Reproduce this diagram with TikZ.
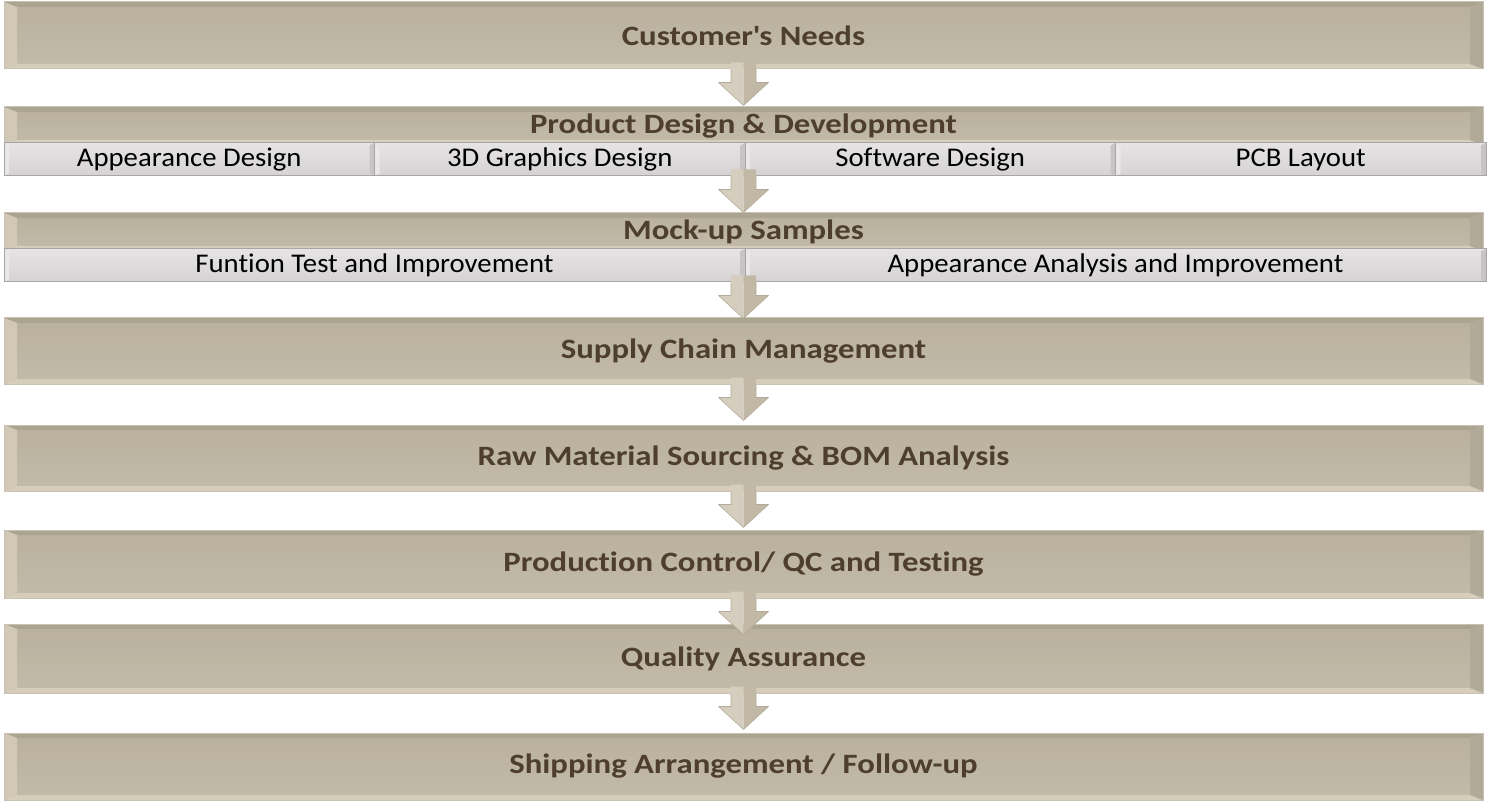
\documentclass[tikz,border=0pt]{standalone}
\usepackage{fontspec}
\setmainfont{Carlito}
\newfontfamily\titlefont[FakeStretch=1.17,Ligatures=NoCommon]{Carlito}
\newfontfamily\cellfont[FakeStretch=1.065,Ligatures=NoCommon]{Carlito}
\usetikzlibrary{calc}
\definecolor{boxtop}{HTML}{B9B19E}
\definecolor{boxbot}{HTML}{C3BBA9}
\definecolor{bevtop}{HTML}{ABA491}
\definecolor{bevbot}{HTML}{D6CEBB}
\definecolor{bevleft}{HTML}{D1C9B6}
\definecolor{bevright}{HTML}{B2AA98}
\definecolor{boxline}{HTML}{C9C2B2}
\definecolor{titlebrown}{HTML}{4E3E2E}
\definecolor{celltop}{HTML}{E6E3E4}
\definecolor{cellbot}{HTML}{D6D3D4}
\definecolor{cellline}{HTML}{A9A5A5}
\definecolor{cellbevR}{HTML}{C8C4C4}
\definecolor{cellbevL}{HTML}{E9E7E7}
\definecolor{arrL}{HTML}{D5CEBE}
\definecolor{arrR}{HTML}{C1B9A6}
\definecolor{arrline}{HTML}{B3AB98}
\tikzset{
  bevel/.style n args={6}{path picture={
    \path (path picture bounding box.north west) coordinate (nw)
          (path picture bounding box.north east) coordinate (ne)
          (path picture bounding box.south west) coordinate (sw)
          (path picture bounding box.south east) coordinate (se);
    \fill[#3] (nw) -- (ne) -- ([xshift=-#1,yshift=-#2]ne) -- ([xshift=#1,yshift=-#2]nw) -- cycle;
    \fill[#4] (sw) -- (se) -- ([xshift=-#1,yshift=#2]se) -- ([xshift=#1,yshift=#2]sw) -- cycle;
    \fill[#5] (nw) -- (sw) -- ([xshift=#1,yshift=#2]sw) -- ([xshift=#1,yshift=-#2]nw) -- cycle;
    \fill[#6] (ne) -- (se) -- ([xshift=-#1,yshift=#2]se) -- ([xshift=-#1,yshift=-#2]ne) -- cycle;
  }},
  stagebox/.style={draw=boxline, line width=1pt, top color=boxtop, bottom color=boxbot,
    minimum width=1479pt, minimum height=#1, inner sep=0pt, text=titlebrown,
    font=\titlefont\bfseries\fontsize{28}{30}\selectfont,
    bevel={13pt}{5pt}{bevtop}{bevbot}{bevleft}{bevright}},
  cellbox/.style={draw=cellline, line width=1pt, top color=celltop, bottom color=cellbot,
    minimum width=#1, minimum height=33pt, inner sep=0pt, text=black,
    font=\cellfont\fontsize{27}{29}\selectfont,
    bevel={5pt}{2.5pt}{celltop}{cellbot}{cellbevL}{cellbevR}},
  flowL/.style={fill=arrL},
  flowR/.style={fill=arrR},
  flowline/.style={draw=arrline, line width=0.6pt, line join=round},
}
\newcommand\flowarrow[2]{%
  \fill[flowL] let \p1=(#1.south), \p2=(#2.north) in
    (\x2-12.5pt,\y1+7pt) -- (\x2,\y1+7pt) -- (\x2,\y1-36pt) -- (\x2-25pt,\y1-13pt) -- (\x2-12.5pt,\y1-13pt) -- cycle;
  \fill[flowR] let \p1=(#1.south), \p2=(#2.north) in
    (\x2+12.5pt,\y1+7pt) -- (\x2,\y1+7pt) -- (\x2,\y1-36pt) -- (\x2+25pt,\y1-13pt) -- (\x2+12.5pt,\y1-13pt) -- cycle;
  \draw[flowline] let \p1=(#1.south), \p2=(#2.north) in
    (\x2-12.5pt,\y1) -- (\x2-12.5pt,\y1-13pt) -- (\x2-25pt,\y1-13pt) -- (\x2,\y1-36pt) -- (\x2+25pt,\y1-13pt) -- (\x2+12.5pt,\y1-13pt) -- (\x2+12.5pt,\y1);
}
\begin{document}
\begin{tikzpicture}[x=1pt,y=-1pt]
\useasboundingbox (0,0) rectangle (1489,802);
\node[stagebox=67pt] (needs) at (743.5,35.5) {Customer\textquotesingle s Needs};
\node[stagebox=38pt] (pdd) at (743.5,126) {Product Design \& Development};
\node[cellbox=370.5pt] (c1) at (189.25,159.5) {Appearance Design};
\node[cellbox=370.5pt] (c2) at (559.75,159.5) {3D Graphics Design};
\node[cellbox=370.5pt] (c3) at (930.25,159.5) {Software Design};
\node[cellbox=370.5pt] (c4) at (1300.75,159.5) {PCB Layout};
\node[stagebox=38pt] (mock) at (743.5,232) {Mock-up Samples};
\node[cellbox=741pt] (m1) at (374.5,265.5) {Funtion Test and Improvement};
\node[cellbox=741pt] (m2) at (1115.5,265.5) {Appearance Analysis and Improvement};
\node[stagebox=66pt] (scm) at (743.5,351) {Supply Chain Management};
\node[stagebox=66pt] (raw) at (743.5,458) {Raw Material Sourcing \& BOM Analysis};
\node[stagebox=68pt] (prod) at (743.5,564) {Production Control/ QC and Testing};
\node[stagebox=69pt] (qa) at (743.5,658.5) {Quality Assurance};
\node[stagebox=67pt] (ship) at (743.5,766.5) {Shipping Arrangement / Follow-up};
\flowarrow{needs}{pdd}
\flowarrow{c2}{mock}
\flowarrow{m1}{scm}
\flowarrow{scm}{raw}
\flowarrow{raw}{prod}
\flowarrow{prod}{qa}
\flowarrow{qa}{ship}
\end{tikzpicture}
\end{document}
